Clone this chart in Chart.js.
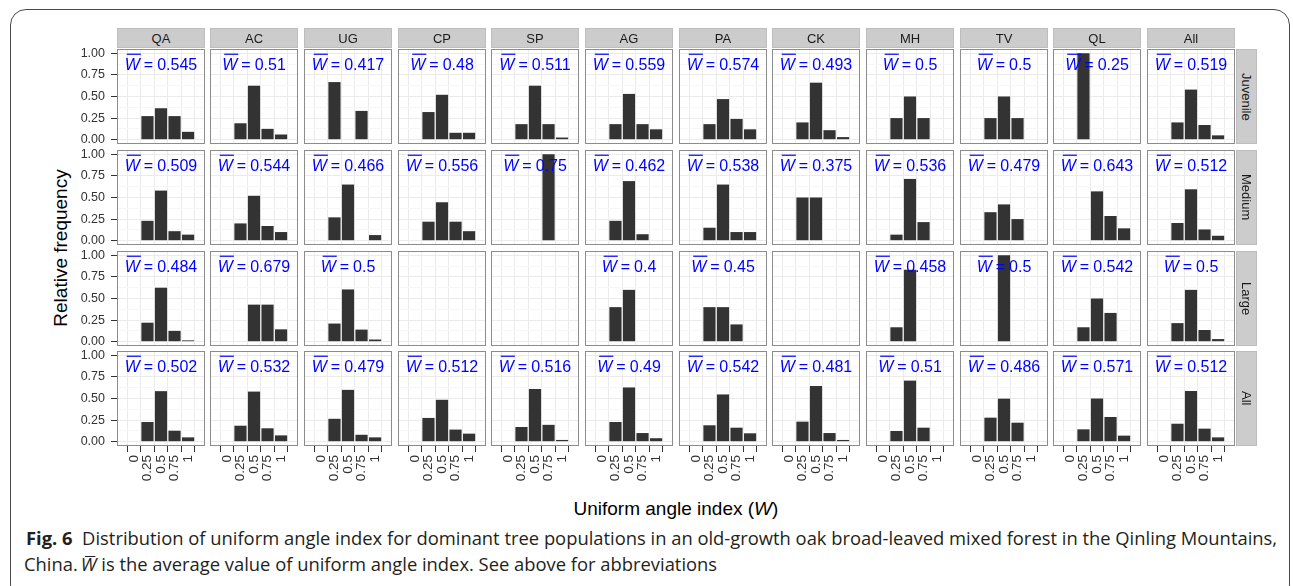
<!DOCTYPE html>
<html>
<head>
<meta charset="utf-8">
<script src="https://cdn.jsdelivr.net/npm/chart.js@4.4.1/dist/chart.umd.min.js"></script>
<style>
body { margin: 0; background: #fff; }
#page { position: relative; width: 1293px; height: 586px; overflow: hidden; font-family: "Liberation Sans", Arial, sans-serif; }
#frame { position: absolute; left: 10px; top: 9px; width: 1278px; height: 590px; border: 1.5px solid #4a4a4a; border-radius: 16px; }
canvas { position: absolute; }
.strip { position: absolute; box-sizing: border-box; background: #cccccc; border: 1px solid #bdbdbd; color: #1a1a1a; font-size: 13px; display: flex; align-items: center; justify-content: center; }
.strip.side span { writing-mode: vertical-rl; }
.title { position: absolute; font-size: 19px; color: #000; white-space: nowrap; }
.caption { position: absolute; left: 26px; font-family: "Open Sans", sans-serif; font-size: 17.5px; line-height: 17.5px; color: #231f20; white-space: nowrap; transform-origin: 0 0; }
.wbar { position: relative; font-style: italic; }
.wbar::after { content: ""; position: absolute; left: 4px; right: 1px; top: 4px; border-top: 1px solid #231f20; }
</style>
</head>
<body>
<div id="page">
  <div id="frame"></div>
  <div class="title" id="ytitle">Relative frequency</div>
  <div class="title" id="xtitle">Uniform angle index (<i>W</i>)</div>
  <div class="caption" id="cap1" style="top:530px"><b>Fig. 6</b>&nbsp;&nbsp;Distribution of uniform angle index for dominant tree populations in an old-growth oak broad-leaved mixed forest in the Qinling Mountains,</div>
  <div class="caption" id="cap2" style="top:556px; left:24px">China.&thinsp;<span class="wbar">W</span> is the average value of uniform angle index. See above for abbreviations</div>
</div>
<script>
// facets
const species = ["QA", "AC", "UG", "CP", "SP", "AG", "PA", "CK", "MH", "TV", "QL", "All"];
const sizeClasses = ["Juvenile", "Medium", "Large", "All"];
const wLabels = ["0", "0.25", "0.5", "0.75", "1"];
const yTicks = [0, 0.25, 0.5, 0.75, 1];

// relative frequency per W class (0, 0.25, 0.5, 0.75, 1), one row per species
const juvenile = [
  [null, 0.273, 0.364, 0.273, 0.091],
  [null, 0.19, 0.625, 0.125, 0.06],
  [null, 0.667, null, 0.333, null],
  [null, 0.32, 0.52, 0.08, 0.08],
  [null, 0.18, 0.625, 0.18, 0.025],
  [null, 0.18, 0.53, 0.18, 0.12],
  [null, 0.18, 0.47, 0.24, 0.12],
  [null, 0.2, 0.66, 0.11, 0.03],
  [null, 0.25, 0.5, 0.25, null],
  [null, 0.25, 0.5, 0.25, null],
  [null, 1.0, null, null, null],
  [null, 0.2, 0.58, 0.17, 0.05]
];
const medium = [
  [null, 0.23, 0.58, 0.11, 0.07],
  [null, 0.2, 0.52, 0.17, 0.1],
  [null, 0.27, 0.65, null, 0.065],
  [null, 0.22, 0.445, 0.22, 0.11],
  [null, null, null, 1.0, null],
  [null, 0.23, 0.69, 0.075, null],
  [null, 0.15, 0.65, 0.1, 0.1],
  [null, 0.5, 0.5, null, null],
  [null, 0.07, 0.715, 0.215, null],
  [null, 0.33, 0.42, 0.25, null],
  [null, null, 0.571, 0.286, 0.143],
  [null, 0.205, 0.595, 0.13, 0.057]
];
const large = [
  [null, 0.22, 0.625, 0.125, 0.015],
  [null, null, 0.429, 0.429, 0.143],
  [null, 0.21, 0.605, 0.14, 0.025],
  [null, null, null, null, null],
  [null, null, null, null, null],
  [null, 0.4, 0.6, null, null],
  [null, 0.4, 0.4, 0.2, null],
  [null, null, null, null, null],
  [null, 0.167, 0.833, null, null],
  [null, null, 1.0, null, null],
  [null, 0.167, 0.5, 0.333, null],
  [null, 0.215, 0.6, 0.135, 0.03]
];
const allSizes = [
  [null, 0.228, 0.585, 0.127, 0.05],
  [null, 0.185, 0.58, 0.155, 0.073],
  [null, 0.265, 0.6, 0.08, 0.05],
  [null, 0.275, 0.485, 0.14, 0.093],
  [null, 0.17, 0.61, 0.195, 0.02],
  [null, 0.228, 0.628, 0.1, 0.04],
  [null, 0.19, 0.547, 0.162, 0.097],
  [null, 0.232, 0.645, 0.1, 0.02],
  [null, 0.124, 0.707, 0.162, null],
  [null, 0.278, 0.498, 0.22, null],
  [null, 0.143, 0.5, 0.286, 0.07],
  [null, 0.208, 0.587, 0.151, 0.05]
];

// mean W shown in each panel
const juvenileMeanW = [0.545, 0.51, 0.417, 0.48, 0.511, 0.559, 0.574, 0.493, 0.5, 0.5, 0.25, 0.519];
const mediumMeanW = [0.509, 0.544, 0.466, 0.556, 0.75, 0.462, 0.538, 0.375, 0.536, 0.479, 0.643, 0.512];
const largeMeanW = [0.484, 0.679, 0.5, null, null, 0.4, 0.45, null, 0.458, 0.5, 0.542, 0.5];
const allMeanW = [0.502, 0.532, 0.479, 0.512, 0.516, 0.49, 0.542, 0.481, 0.51, 0.486, 0.571, 0.512];

const freqRows = [juvenile, medium, large, allSizes];
const meanRows = [juvenileMeanW, mediumMeanW, largeMeanW, allMeanW];

// layout
const PANEL_W = 88, PANEL_H = 95;
const M = 10;
const Y_AXIS_W = 46, X_AXIS_H = 42;
const LABEL_Y = 0.81;
const FONT = '"Liberation Sans", Arial, sans-serif';

function panelLeft(c) { return Math.round(116.7 + c * 93.66); }
function panelTop(r) { return Math.round(48.7 + r * 100.9); }

const page = document.getElementById("page");

function zeroPad(s) {
  s.paddingLeft = 0; s.paddingRight = 0; s.paddingTop = 0; s.paddingBottom = 0;
}

const panelFrame = {
  id: "panelFrame",
  afterDraw(chart) {
    const a = chart.chartArea;
    const ctx = chart.ctx;
    ctx.save();
    ctx.strokeStyle = "#8c8c8c";
    ctx.lineWidth = 1;
    ctx.strokeRect(a.left + 0.5, a.top + 0.5, a.right - a.left - 1, a.bottom - a.top - 1);
    ctx.restore();
  }
};

// W-bar = value, drawn above the bars
const meanLabel = {
  id: "meanLabel",
  afterDatasetsDraw(chart, args, opts) {
    if (opts.text == null) return;
    const ctx = chart.ctx;
    const cx = chart.scales.x.getPixelForValue(2);
    const base = chart.scales.y.getPixelForValue(LABEL_Y);
    ctx.save();
    ctx.fillStyle = "#0000ff";
    ctx.strokeStyle = "#0000ff";
    ctx.textAlign = "left";
    ctx.textBaseline = "alphabetic";
    ctx.font = "italic 16px " + FONT;
    const wW = ctx.measureText("W").width;
    ctx.font = "16px " + FONT;
    const eqW = ctx.measureText("=").width;
    const numW = ctx.measureText(opts.text).width;
    const gap1 = 4, gap2 = 4;
    const total = wW + gap1 + eqW + gap2 + numW;
    const x0 = cx - total / 2;
    ctx.font = "italic 16px " + FONT;
    ctx.fillText("W", x0, base);
    ctx.lineWidth = 1.2;
    ctx.beginPath();
    ctx.moveTo(x0 + 2, base - 15.5);
    ctx.lineTo(x0 + wW + 1, base - 15.5);
    ctx.stroke();
    ctx.font = "16px " + FONT;
    ctx.fillText("=", x0 + wW + gap1, base);
    ctx.fillText(opts.text, x0 + wW + gap1 + eqW + gap2, base);
    ctx.restore();
  }
};

function isMajor(v) { return yTicks.includes(v); }

sizeClasses.forEach((size, r) => {
  species.forEach((sp, c) => {
    const isLeft = c === 0;
    const isBottom = r === sizeClasses.length - 1;
    const lw = isLeft ? Y_AXIS_W : 0;
    const bh = isBottom ? X_AXIS_H : 0;

    const canvas = document.createElement("canvas");
    canvas.width = PANEL_W + 2 * M + lw;
    canvas.height = PANEL_H + 2 * M + bh;
    canvas.style.left = (panelLeft(c) - M - lw) + "px";
    canvas.style.top = (panelTop(r) - M) + "px";
    page.appendChild(canvas);

    const freq = freqRows[r][c];
    const mean = meanRows[r][c];

    new Chart(canvas, {
      type: "bar",
      data: {
        datasets: [{
          data: freq.map((v, i) => ({ x: i, y: v })),
          backgroundColor: "#333333",
          borderWidth: 0,
          categoryPercentage: 1,
          barPercentage: 0.9
        }]
      },
      options: {
        responsive: false,
        animation: false,
        devicePixelRatio: 1,
        events: [],
        layout: { padding: M },
        plugins: {
          legend: { display: false },
          tooltip: { enabled: false },
          meanLabel: { text: mean == null ? null : String(mean) }
        },
        scales: {
          x: {
            type: "linear",
            min: -0.6,
            max: 4.6,
            afterBuildTicks: s => { s.ticks = wLabels.map((_, i) => ({ value: i })); },
            afterFit: s => { s.height = bh; zeroPad(s); },
            border: { display: false },
            grid: { color: "#ebebeb", lineWidth: 1, drawTicks: isBottom, tickLength: 6, tickColor: "#333333", tickWidth: 1 },
            ticks: {
              display: isBottom,
              autoSkip: false,
              minRotation: 90,
              maxRotation: 90,
              padding: 3,
              color: "#333333",
              font: { family: FONT, size: 13.5 },
              callback: v => wLabels[v]
            }
          },
          y: {
            type: "linear",
            min: -0.05,
            max: 1.05,
            afterBuildTicks: s => {
              const t = [];
              for (let i = 0; i <= 8; i++) t.push({ value: i / 8 });
              s.ticks = t;
            },
            afterFit: s => { s.width = lw; zeroPad(s); },
            border: { display: false },
            grid: {
              color: ctx => isMajor(ctx.tick.value) ? "#ebebeb" : "#f7f7f7",
              lineWidth: 1,
              drawTicks: isLeft,
              tickLength: 6,
              tickColor: ctx => isMajor(ctx.tick.value) ? "#333333" : "rgba(0,0,0,0)",
              tickWidth: 1
            },
            ticks: {
              display: isLeft,
              autoSkip: false,
              padding: 6,
              color: "#333333",
              font: { family: FONT, size: 12.5 },
              callback: v => isMajor(v) ? v.toFixed(2) : ""
            }
          }
        }
      },
      plugins: [panelFrame, meanLabel]
    });
  });
});

// strips
species.forEach((sp, c) => {
  const d = document.createElement("div");
  d.className = "strip";
  d.style.left = panelLeft(c) + "px";
  d.style.top = "28px";
  d.style.width = PANEL_W + "px";
  d.style.height = "20px";
  d.textContent = sp;
  page.appendChild(d);
});
sizeClasses.forEach((size, r) => {
  const d = document.createElement("div");
  d.className = "strip side";
  d.style.left = (panelLeft(species.length - 1) + PANEL_W + 1) + "px";
  d.style.top = panelTop(r) + "px";
  d.style.width = "21px";
  d.style.height = PANEL_H + "px";
  const s = document.createElement("span");
  s.textContent = size;
  d.appendChild(s);
  page.appendChild(d);
});

// axis titles
const yt = document.getElementById("ytitle");
yt.style.left = (60 - yt.offsetWidth / 2) + "px";
yt.style.top = (248 - yt.offsetHeight / 2) + "px";
yt.style.transform = "rotate(-90deg)";
const xt = document.getElementById("xtitle");
xt.style.left = (676 - xt.offsetWidth / 2) + "px";
xt.style.top = (509 - xt.offsetHeight / 2) + "px";

// fit caption to the printed width
const cap1 = document.getElementById("cap1");
const cap2 = document.getElementById("cap2");
const k = 1251 / cap1.offsetWidth;
cap1.style.transform = "scaleX(" + k + ")";
cap2.style.transform = "scaleX(" + k + ")";
</script>
</body>
</html>
